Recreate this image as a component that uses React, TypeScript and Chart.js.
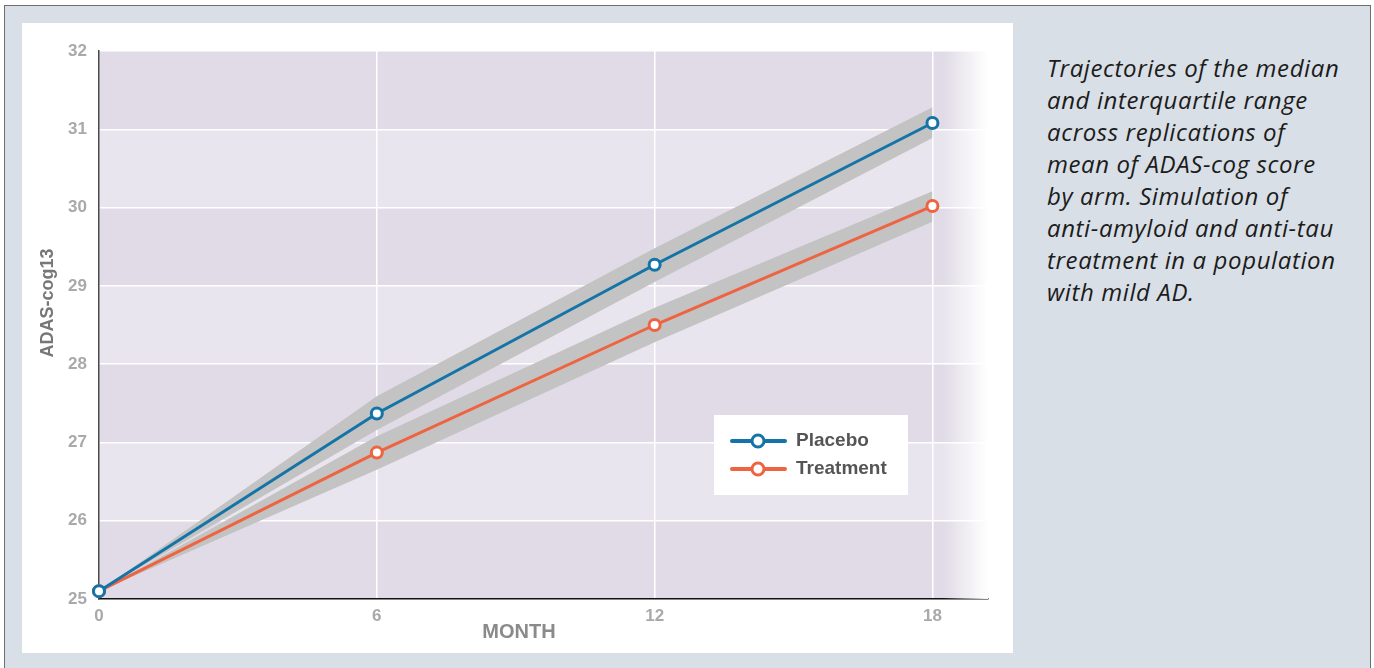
import React, { useEffect, useRef } from "react";
import { Chart, registerables } from "chart.js";

Chart.register(...registerables);

const months = [0, 6, 12, 18];
const yTicks = [25, 26, 27, 28, 29, 30, 31, 32];
const placeboMedian = [25.1, 27.37, 29.27, 31.08];
const placeboQ1 = [25.1, 27.16, 29.05, 30.89];
const placeboQ3 = [25.1, 27.59, 29.48, 31.28];
const treatmentMedian = [25.1, 26.87, 28.5, 30.02];
const treatmentQ1 = [25.1, 26.65, 28.28, 29.82];
const treatmentQ3 = [25.1, 27.08, 28.72, 30.21];
const seriesLabels = ["Placebo", "Treatment"];
const xTitle = "MONTH";
const yTitle = "ADAS-cog13";
const captionLines = [
  "Trajectories of the median",
  "and interquartile range",
  "across replications of",
  "mean of ADAS-cog score",
  "by arm. Simulation of",
  "anti-amyloid and anti-tau",
  "treatment in a population",
  "with mild AD.",
];

const BLUE = "#1474a8";
const ORANGE = "#ef6440";
const BAND = "#c3c3c3";
const DARK_ROW = "#e0dbe6";
const LIGHT_ROW = "#e9e5ee";
const FONT = "'Liberation Sans', Arial, Helvetica, sans-serif";

const pts = (ys: number[]) => months.map((m, i) => ({ x: m, y: ys[i] }));

const backgroundPlugin = {
  id: "plotBg",
  beforeDraw(chart: any) {
    const { ctx, chartArea } = chart;
    const ys = chart.scales.y;
    ctx.save();
    for (let v = yTicks[0]; v < yTicks[yTicks.length - 1]; v++) {
      const top = ys.getPixelForValue(v + 1);
      const bot = ys.getPixelForValue(v);
      ctx.fillStyle = v % 2 === 1 ? DARK_ROW : LIGHT_ROW;
      ctx.fillRect(chartArea.left, top, chartArea.right - chartArea.left, bot - top);
    }
    ctx.restore();
  },
  beforeDatasetsDraw(chart: any) {
    const { ctx, chartArea } = chart;
    ctx.save();
    const g = ctx.createLinearGradient(chartArea.right - 45, 0, chartArea.right, 0);
    g.addColorStop(0, "rgba(255,255,255,0)");
    g.addColorStop(1, "rgba(255,255,255,1)");
    ctx.fillStyle = g;
    ctx.fillRect(chartArea.right - 45, chartArea.top, 45, chartArea.bottom - chartArea.top);
    ctx.restore();
  },
};

const overlayPlugin = {
  id: "overlay",
  afterDraw(chart: any) {
    const { ctx } = chart;
    ctx.save();
    // axis titles
    ctx.fillStyle = "#777777";
    ctx.font = `bold 18px ${FONT}`;
    ctx.textAlign = "center";
    ctx.textBaseline = "middle";
    ctx.save();
    ctx.translate(26, 280);
    ctx.rotate(-Math.PI / 2);
    ctx.fillText(yTitle, 0, 0);
    ctx.restore();
    ctx.fillStyle = "#8a8a8a";
    ctx.font = `bold 20px ${FONT}`;
    ctx.fillText(xTitle, 497, 609);

    // legend
    const bx = 692, by = 392, bw = 194, bh = 80;
    ctx.fillStyle = "#ffffff";
    ctx.fillRect(bx, by, bw, bh);
    const colors = [BLUE, ORANGE];
    const rows = [by + 26, by + 54];
    seriesLabels.forEach((lab, i) => {
      const y = rows[i];
      ctx.strokeStyle = colors[i];
      ctx.lineWidth = 4;
      ctx.lineCap = "round";
      ctx.beginPath();
      ctx.moveTo(bx + 18, y);
      ctx.lineTo(bx + 71, y);
      ctx.stroke();
      ctx.beginPath();
      ctx.arc(bx + 44, y, 6, 0, Math.PI * 2);
      ctx.fillStyle = "#fff";
      ctx.fill();
      ctx.lineWidth = 3;
      ctx.stroke();
      ctx.fillStyle = "#555555";
      ctx.font = `bold 19px ${FONT}`;
      ctx.textAlign = "left";
      ctx.textBaseline = "middle";
      ctx.fillText(lab, bx + 82, y);
    });
    ctx.restore();
  },
};

export default function App() {
  const ref = useRef<HTMLCanvasElement | null>(null);
  useEffect(() => {
    if (!ref.current) return;
    const lineDs = (label: string, data: number[], color: string, order: number) => ({
      label,
      data: pts(data),
      borderColor: color,
      backgroundColor: "#ffffff",
      borderWidth: 3,
      pointRadius: 5.5,
      pointBorderWidth: 3,
      pointBackgroundColor: "#ffffff",
      pointBorderColor: color,
      fill: false,
      clip: false as any,
      order,
      tension: 0,
    });
    const bandDs = (label: string, data: number[], fill: any) => ({
      label,
      data: pts(data),
      borderWidth: 0,
      borderColor: "rgba(0,0,0,0)",
      backgroundColor: BAND,
      pointRadius: 0,
      fill,
      order: 10,
      tension: 0,
    });
    const chart = new Chart(ref.current, {
      type: "line",
      data: {
        datasets: [
          lineDs(seriesLabels[0], placeboMedian, BLUE, 0),
          lineDs(seriesLabels[1], treatmentMedian, ORANGE, 1),
          bandDs("Placebo Q3", placeboQ3, "+1"),
          bandDs("Placebo Q1", placeboQ1, false),
          bandDs("Treatment Q3", treatmentQ3, "+1"),
          bandDs("Treatment Q1", treatmentQ1, false),
        ],
      },
      options: {
        animation: false,
        responsive: true,
        maintainAspectRatio: false,
        layout: { padding: { top: 28, right: 25, left: 0, bottom: 0 } },
        plugins: {
          legend: { display: false },
          tooltip: { enabled: false },
        },
        scales: {
          x: {
            type: "linear",
            min: 0,
            max: 19.2,
            afterBuildTicks: (s: any) => {
              s.ticks = months.map((v) => ({ value: v }));
            },
            afterFit: (s: any) => {
              s.height = 54;
            },
            grid: {
              color: (c: any) => (c.tick && c.tick.value === 0 ? "rgba(0,0,0,0)" : "#ffffff"),
              lineWidth: 1.5,
              drawTicks: false,
            },
            border: { color: "#111111", width: 1.5 },
            ticks: {
              color: "#a9a9a9",
              font: { family: FONT, size: 17, weight: "bold" },
              padding: 7,
              callback: (v: any) => String(v),
            },
          },
          y: {
            min: 25,
            max: 32,
            afterBuildTicks: (s: any) => {
              s.ticks = yTicks.map((v) => ({ value: v }));
            },
            afterFit: (s: any) => {
              s.width = 77;
            },
            grid: {
              color: "#ffffff",
              lineWidth: 1.5,
              drawTicks: false,
            },
            border: { color: "#4a4a4a", width: 1.5 },
            ticks: {
              color: "#a9a9a9",
              font: { family: FONT, size: 17, weight: "bold" },
              padding: 12,
            },
          },
        },
      } as any,
      plugins: [backgroundPlugin, overlayPlugin],
    });
    return () => chart.destroy();
  }, []);

  return (
    <div
      style={{
        position: "fixed",
        left: 0,
        top: 0,
        width: 1374,
        height: 668,
        background: "#ffffff",
        overflow: "hidden",
      }}
    >
      <div
        style={{
          position: "absolute",
          left: 4,
          top: 5,
          width: 1365,
          height: 700,
          background: "#d9dfe6",
          border: "1px solid #6e6e6e",
        }}
      />
      <div
        style={{
          position: "absolute",
          left: 22,
          top: 23,
          width: 991,
          height: 630,
          background: "#ffffff",
        }}
      >
        <canvas ref={ref} />
      </div>
      <div
        style={{
          position: "absolute",
          left: 1047,
          top: 52,
          fontFamily: "'Open Sans', Lato, sans-serif",
          fontStyle: "italic",
          fontSize: 24,
          letterSpacing: "0.6px",
          lineHeight: "32px",
          color: "#1c1c1c",
          whiteSpace: "nowrap",
        }}
      >
        {captionLines.map((l, i) => (
          <div key={i}>{l}</div>
        ))}
      </div>
    </div>
  );
}
